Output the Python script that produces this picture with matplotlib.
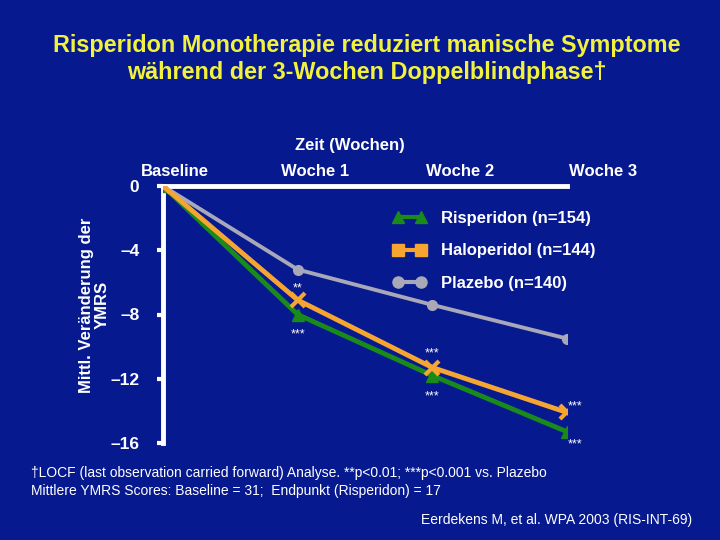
import numpy as np
import matplotlib
matplotlib.use("Agg")
import matplotlib.pyplot as plt
from matplotlib.lines import Line2D

BG = "#06198F"
BOLD = ["Liberation Sans", "Arial", "DejaVu Sans"]

# Daten (mittlere Veränderung YMRS)
zeitpunkte = ["Baseline", "Woche 1", "Woche 2", "Woche 3"]
risperidon = [0.0, -8.0, -11.8, -15.3]
haloperidol = [0.0, -7.1, -11.3, -14.1]
plazebo = [0.0, -5.2, -7.4, -9.5]
y_ticks = [0, -4, -8, -12, -16]
y_ticklabels = ["0", "\u20134", "\u20138", "\u201312", "\u201316"]

x = np.arange(len(zeitpunkte))

fig = plt.figure(figsize=(7.2, 5.4), dpi=100, facecolor=BG)
ax = fig.add_axes([163 / 720, 1 - 443 / 540, 404 / 720, 257 / 540])
ax.set_facecolor(BG)

ax.plot(x, plazebo, color="#A8A8B8", lw=2.8, marker="o", ms=7, zorder=2)
ax.plot(x, risperidon, color="#1A8A1A", lw=3.5, marker="^", ms=9, zorder=3)
ax.plot(x, haloperidol, color="#F7A531", lw=3.5, marker="x", ms=10, mew=3, zorder=4)

ax.set_xlim(0, 3)
ax.set_ylim(-16, 0)
ax.set_xticks([])
ax.set_yticks(y_ticks)
ax.set_yticklabels(y_ticklabels, fontfamily=BOLD, fontweight="bold", fontsize=12.5, color="white")
ax.tick_params(axis="y", colors="white", length=4, width=3, pad=13, direction="out")
for s in ["right", "bottom"]:
    ax.spines[s].set_visible(False)
for s in ["left", "top"]:
    ax.spines[s].set_color("white")
    ax.spines[s].set_linewidth(3.5)

# Zeitachsen-Beschriftung oben
lab_x = [175, 315, 460, 603]
for lx, lab in zip(lab_x, zeitpunkte):
    fig.text(lx / 720, 1 - 171 / 540, lab, ha="center", va="center", color="white",
             fontfamily=BOLD, fontweight="bold", fontsize=12)
fig.text(350 / 720, 1 - 145 / 540, "Zeit (Wochen)", ha="center", va="center", color="white",
         fontfamily=BOLD, fontweight="bold", fontsize=12)

fig.text(94 / 720, 1 - 305 / 540, "Mittl. Veränderung der\nYMRS", rotation=90, ha="center",
         va="center", color="white", fontfamily=BOLD, fontweight="bold", fontsize=12,
         linespacing=1.05)

# Signifikanzsterne
sig_kw = dict(color="white", fontsize=9, ha="center", va="center", fontfamily=BOLD)
ax.annotate("**", (1, haloperidol[1]), xytext=(0, 8), textcoords="offset points", **sig_kw)
ax.annotate("***", (1, risperidon[1]), xytext=(0, -14), textcoords="offset points", **sig_kw)
ax.annotate("***", (2, haloperidol[2]), xytext=(0, 10), textcoords="offset points", **sig_kw)
ax.annotate("***", (2, risperidon[2]), xytext=(0, -15), textcoords="offset points", **sig_kw)
ax.annotate("***", (3, haloperidol[3]), xytext=(6, 4), textcoords="offset points",
            annotation_clip=False, **sig_kw)
ax.annotate("***", (3, risperidon[3]), xytext=(6, -9), textcoords="offset points",
            annotation_clip=False, **sig_kw)

handles = [
    Line2D([], [], color="#1A8A1A", lw=3, marker="^", ms=9),
    Line2D([], [], color="#F7A531", lw=3, marker="s", ms=8),
    Line2D([], [], color="#A8A8B8", lw=3, marker="o", ms=8),
]
labels = ["Risperidon (n=154)", "Haloperidol (n=144)", "Plazebo (n=140)"]
leg = fig.legend(handles, labels, loc="upper left", bbox_to_anchor=(378 / 720, 1 - 196 / 540),
                 frameon=False, numpoints=2, handlelength=2.0, handletextpad=0.9,
                 labelspacing=1.05, prop=dict(family=BOLD, weight="bold", size=12))
for t in leg.get_texts():
    t.set_color("white")

# Titel
fig.text(367 / 720, 1 - 59 / 540,
         "Risperidon Monotherapie reduziert manische Symptome\nwährend der 3-Wochen Doppelblindphase\u2020",
         ha="center", va="center", color="#F2F23C", fontfamily=BOLD, fontweight="bold",
         fontsize=16.8, linespacing=1.25)

# Fußnoten
fs = 10
fig.text(31 / 720, 1 - 473 / 540,
         "\u2020LOCF (last observation carried forward) Analyse. **p<0.01; ***p<0.001 vs. Plazebo",
         ha="left", va="center", color="white", fontfamily=BOLD, fontsize=fs)
fig.text(31 / 720, 1 - 491 / 540,
         "Mittlere YMRS Scores: Baseline = 31;  Endpunkt (Risperidon) = 17",
         ha="left", va="center", color="white", fontfamily=BOLD, fontsize=fs)
fig.text(692 / 720, 1 - 520 / 540, "Eerdekens M, et al. WPA 2003 (RIS-INT-69)",
         ha="right", va="center", color="white", fontfamily=BOLD, fontsize=fs)

fig.savefig("out.png", dpi=100, facecolor=BG)
plt.close(fig)
